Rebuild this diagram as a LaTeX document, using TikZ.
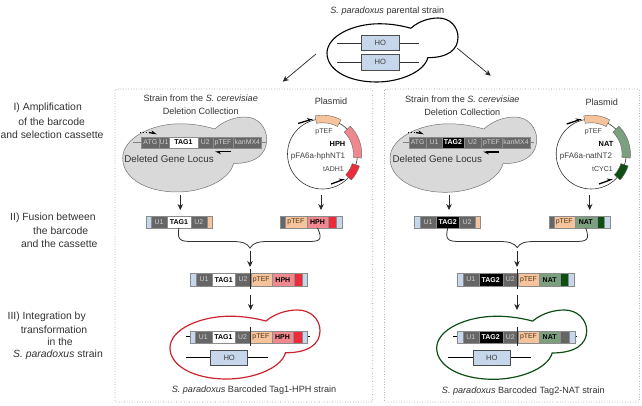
\documentclass[tikz,border=0pt]{standalone}
\usepackage{fontspec}
\setmainfont{Liberation Sans}
\usetikzlibrary{arrows.meta}

\definecolor{segdark}{HTML}{666666}
\definecolor{seglight}{HTML}{CFCFCF}
\definecolor{peach}{HTML}{F6C49C}
\definecolor{hphpink}{HTML}{F0898F}
\definecolor{hphred}{HTML}{EE2B3A}
\definecolor{natgreen}{HTML}{7C9F80}
\definecolor{natdark}{HTML}{0E4F14}
\definecolor{markerblue}{HTML}{C6D6EB}
\definecolor{cellgray}{HTML}{D9D9D9}

\tikzset{
  steptxt/.style={inner sep=0pt,font=\fontsize{10.4}{12}\selectfont,text=black!80},
  txt/.style={inner sep=0pt,font=\fontsize{9.1}{11}\selectfont,text=black!80},
  genetxt/.style={inner sep=0pt,font=\fontsize{9.8}{11}\selectfont,text=black!80},
  small/.style={inner sep=0pt,font=\fontsize{8}{9}\selectfont,text=black!75},
  tiny/.style={inner sep=0pt,font=\fontsize{7}{9}\selectfont,text=black!75},
  smallb/.style={inner sep=0pt,font=\fontsize{7.4}{9}\selectfont\bfseries,text=black},
  seg/.style={rectangle,inner sep=0pt,draw=black!45,line width=.3pt,font=\fontsize{6.9}{9}\selectfont},
  sgray/.style={seg,fill=segdark,text=seglight},
  swhite/.style={seg,fill=white,font=\fontsize{7}{9}\selectfont\bfseries,text=black},
  sblack/.style={seg,fill=black,font=\fontsize{7}{9}\selectfont\bfseries,text=white},
  speach/.style={seg,fill=peach,text=black!60!brown},
  spink/.style={seg,fill=hphpink,font=\fontsize{7}{9}\selectfont\bfseries,text=black},
  sred/.style={seg,fill=hphred},
  sgreen/.style={seg,fill=natgreen,font=\fontsize{7}{9}\selectfont\bfseries,text=black},
  sdkgreen/.style={seg,fill=natdark},
  sblue/.style={seg,fill=markerblue},
  hobox/.style={rectangle,inner sep=0pt,draw=black!70,line width=.6pt,fill=markerblue,font=\fontsize{7.6}{9}\selectfont,text=black!75},
  arrowline/.style={draw=black!85,line width=.7pt,-{Stealth[length=6pt,width=5.5pt]}},
  primer/.style={draw=black,line width=1.3pt,-{Stealth[harpoon,length=5pt,width=5pt]}},
  wire/.style={draw=black!80,line width=.7pt},
  panel/.style={draw=black!45,dotted,line width=.6pt,rounded corners=1.5pt},
  plasmidring/.style={circle,draw=black!80,line width=.6pt,minimum size=70pt,inner sep=0pt},
}

% Budding yeast outline, fitted to the box with top-left (#1,#2), size #3 x #4
\newcommand{\yeast}[5]{%
  \begin{scope}[shift={(#1,#2)},xscale=#3,yscale=#4]
    \path[#5] (.64,.16) .. controls (.70,.05) and (.78,0) .. (.85,0)
      .. controls (.94,0) and (1,.14) .. (1,.3)
      .. controls (1,.5) and (.92,.62) .. (.77,.62)
      .. controls (.74,.85) and (.55,1) .. (.38,1)
      .. controls (.15,1) and (0,.8) .. (0,.55)
      .. controls (0,.28) and (.2,.09) .. (.4,.09)
      .. controls (.49,.09) and (.57,.12) .. (.64,.16) -- cycle;
  \end{scope}}

% Cassette segment: name, left x, right x, top y, height, style, label
\newcommand{\segm}[7]{%
  \pgfmathsetmacro{\segw}{#3-#2}\pgfmathsetmacro{\segx}{(#2+#3)/2}\pgfmathsetmacro{\segy}{#4+#5/2}%
  \node[#6,minimum width=\segw pt,minimum height=#5pt] (#1) at (\segx,\segy) {#7};}

% Annular sector of a plasmid: centre x, centre y, start angle, end angle, half width, fill
\newcommand{\ringseg}[6]{%
  \draw[draw=black!60,line width=.4pt,fill=#6]
    plot[domain=#3:#4,samples=16] ({#1+(35+#5)*cos(\x)},{#2-(35+#5)*sin(\x)}) --
    plot[domain=#4:#3,samples=16] ({#1+(35-#5)*cos(\x)},{#2-(35-#5)*sin(\x)}) -- cycle;}

\begin{document}
\begin{tikzpicture}[x=1pt,y=-1pt]
\useasboundingbox (0,0) rectangle (642,406);
\fill[white] (0,0) rectangle (642,406);

% ---- parental strain
\node[txt] (title) at (387.3,11) {\textit{S. paradoxus} parental strain};
\yeast{327}{18}{131}{64}{draw=black,line width=1.1pt,fill=white}
\coordinate (hoa1) at (337.3,43); \coordinate (hoa2) at (419,43);
\coordinate (hob1) at (337.3,62.3); \coordinate (hob2) at (419,62.3);
\draw[wire] (hoa1) -- (hoa2); \draw[wire] (hob1) -- (hob2);
\node[hobox,minimum width=37.5pt,minimum height=15.5pt] (hoa) at (380.3,43) {HO};
\node[hobox,minimum width=37.5pt,minimum height=15.5pt] (hob) at (380.3,62.3) {HO};
\coordinate (spL1) at (316,54); \coordinate (spL2) at (282.7,81.7);
\coordinate (spR1) at (457.3,48.3); \coordinate (spR2) at (490.7,75.7);
\draw[arrowline] (spL1) -- (spL2);
\draw[arrowline] (spR1) -- (spR2);

% ---- step labels
\node[steptxt] (l1a) at (47.7,108) {I) Amplification};
\node[steptxt] (l1b) at (51.7,121.7) {of the barcode};
\node[steptxt] (l1c) at (52,135) {and selection cassette};
\node[steptxt] (l2a) at (53,218) {II) Fusion between};
\node[steptxt] (l2b) at (60.7,230.7) {the barcode};
\node[steptxt] (l2c) at (59.3,244) {and the cassette};
\node[steptxt] (l3a) at (46.7,316.7) {III) Integration by};
\node[steptxt] (l3b) at (54,329.3) {transformation};
\node[steptxt] (l3c) at (60,342) {in the};
\node[steptxt] (l3d) at (58,355) {\textit{S. paradoxus} strain};

% ---- panels
\draw[panel] (115,89) rectangle (372.7,402);
\draw[panel] (384.5,89) rectangle (639.5,402);

% ======== left panel
\node[txt] (lst1) at (200.7,98.7) {Strain from the \textit{S. cerevisiae}};
\node[txt] (lst2) at (200.7,111.7) {Deletion Collection};
\node[txt] (lpl) at (331,101.7) {Plasmid};
\yeast{122.7}{117}{144}{75}{draw=black!55,line width=.5pt,fill=cellgray}
\coordinate (lg1) at (133,142.5); \coordinate (lg2) at (266,142.5);
\draw[draw=black!50,line width=.5pt] (lg1) -- (lg2);
\segm{lgA}{141.3}{159.3}{136.7}{11.6}{sgray}{ATG}
\segm{lgB}{159.3}{169}{136.7}{11.6}{sgray}{U1}
\segm{lgC}{169}{197.7}{136.7}{11.6}{swhite}{TAG1}
\segm{lgD}{197.7}{212.7}{136.7}{11.6}{sgray}{U2}
\segm{lgE}{212.7}{233.3}{136.7}{11.6}{sgray}{pTEF}
\segm{lgF}{233.3}{261.3}{136.7}{11.6}{sgray}{kanMX4}
\coordinate (lp1) at (140,132.5); \coordinate (lp2) at (149,132.5); \coordinate (lp3) at (157,134);
\draw[black,line width=.9pt,dotted] (lp1) -- (lp2);
\draw[primer] (lp2) -- (lp3);
\coordinate (lp4) at (231,151.7); \coordinate (lp5) at (215,151.7);
\draw[primer] (lp4) -- (lp5);
\node[genetxt] (ldg) at (169,159) {Deleted Gene Locus};

\node[plasmidring] (lring) at (322.5,154) {};
\ringseg{322.5}{154}{101}{61.5}{3.8}{peach}
\ringseg{322.5}{154}{45}{-6}{4.2}{hphpink}
\ringseg{322.5}{154}{-18}{-42}{3.8}{hphred}
\coordinate (lq1) at (298,123.5); \coordinate (lq2) at (313,119);
\coordinate (lq3) at (331,184); \coordinate (lq4) at (345,179);
\draw[primer] (lq1) -- (lq2);
\draw[primer] (lq3) -- (lq4);
\node[tiny] (lpa) at (324,131.5) {pTEF};
\node[smallb] (lpb) at (337.5,143.7) {HPH};
\node[small] (lpc) at (318,156.3) {pFA6a-hphNT1};
\node[tiny] (lpd) at (333.5,169) {tADH1};

\coordinate (la1) at (180.3,195); \coordinate (la2) at (180.3,210);
\coordinate (la3) at (321,195); \coordinate (la4) at (321,210);
\draw[arrowline] (la1) -- (la2);
\draw[arrowline] (la3) -- (la4);

\segm{lbA}{145.7}{151}{215.7}{12}{sblue}{}
\segm{lbB}{151}{167}{215.7}{12}{sgray}{U1}
\segm{lbC}{167}{190.7}{215.7}{12}{swhite}{TAG1}
\segm{lbD}{190.7}{206.7}{215.7}{12}{sgray}{U2}
\segm{lbE}{206.7}{211.7}{215.7}{12}{speach}{}
\segm{lcA}{280}{285}{215.7}{12}{sgray}{}
\segm{lcB}{285}{306.7}{215.7}{12}{speach}{pTEF}
\segm{lcC}{306.7}{328.3}{215.7}{12}{spink}{HPH}
\segm{lcD}{328.3}{336}{215.7}{12}{sred}{}
\segm{lcE}{336}{341.7}{215.7}{12}{sblue}{}

\coordinate (lbr) at (250,248);
\draw[draw=black!80,line width=.8pt]
  (lbC.south) .. controls (177,240) and (180,241.5) .. (192,241.5)
  -- (232,241.5) .. controls (242,241.5) and (247,243) .. (lbr)
  .. controls (253,243) and (258,241.5) .. (268,241.5)
  -- (308,241.5) .. controls (320,241.5) and (323,240) .. (lcC.south);
\coordinate (la5) at (250,251); \coordinate (la6) at (250,267);
\draw[arrowline] (la5) -- (la6);

\segm{ldA}{190.3}{196}{273.5}{12.2}{sblue}{}
\segm{ldB}{196}{212}{273.5}{12.2}{sgray}{U1}
\segm{ldC}{212}{235.3}{273.5}{12.2}{swhite}{TAG1}
\segm{ldD}{235.3}{250.7}{273.5}{12.2}{sgray}{U2}
\segm{ldE}{250.7}{271.7}{273.5}{12.2}{speach}{pTEF}
\segm{ldF}{271.7}{294}{273.5}{12.2}{spink}{HPH}
\segm{ldG}{294}{301.7}{273.5}{12.2}{sred}{}
\segm{ldH}{301.7}{307.3}{273.5}{12.2}{sblue}{}
\coordinate (lj1) at (250.7,269); \coordinate (lj2) at (250.7,289);
\draw[draw=black!85,line width=.6pt] (lj1) -- (lj2);
\coordinate (la7) at (250.7,295); \coordinate (la8) at (250.7,310);
\draw[arrowline] (la7) -- (la8);

\yeast{170}{310}{150}{69}{draw=hphred!85!black,line width=1.2pt,fill=white}
\coordinate (lt1) at (186,336.7); \coordinate (lt2) at (310,336.7);
\draw[draw=black,line width=.8pt] (lt1) -- (lt2);
\segm{leA}{190}{195}{330.7}{12}{sblue}{}
\segm{leB}{195}{211.7}{330.7}{12}{sgray}{U1}
\segm{leC}{211.7}{235}{330.7}{12}{swhite}{TAG1}
\segm{leD}{235}{250}{330.7}{12}{sgray}{U2}
\segm{leE}{250}{271.7}{330.7}{12}{speach}{pTEF}
\segm{leF}{271.7}{293.3}{330.7}{12}{spink}{HPH}
\segm{leG}{293.3}{301.7}{330.7}{12}{sred}{}
\segm{leH}{301.7}{306.7}{330.7}{12}{sblue}{}
\coordinate (lj3) at (250,326.7); \coordinate (lj4) at (250,346);
\draw[draw=black!85,line width=.6pt] (lj3) -- (lj4);
\coordinate (lh1) at (186,357.7); \coordinate (lh2) at (268.3,357.7);
\draw[draw=black,line width=.8pt] (lh1) -- (lh2);
\node[hobox,minimum width=37pt,minimum height=15.3pt] (lho) at (229.2,357.7) {HO};
\node[txt] (lcap) at (254,390) {\textit{S. paradoxus} Barcoded Tag1-HPH strain};

% ======== right panel
\node[txt] (rst1) at (462.3,99) {Strain from the \textit{S. cerevisiae}};
\node[txt] (rst2) at (462.3,112) {Deletion Collection};
\node[txt] (rpl) at (601.7,102.3) {Plasmid};
\yeast{390}{117}{146.7}{75.3}{draw=black!55,line width=.5pt,fill=cellgray}
\coordinate (rg1) at (403,142.5); \coordinate (rg2) at (534,142.5);
\draw[draw=black!50,line width=.5pt] (rg1) -- (rg2);
\segm{rgA}{409.3}{426}{136.7}{11.6}{sgray}{ATG}
\segm{rgB}{426}{442}{136.7}{11.6}{sgray}{U1}
\segm{rgC}{442}{464}{136.7}{11.6}{sblack}{TAG2}
\segm{rgD}{464}{481}{136.7}{11.6}{sgray}{U2}
\segm{rgE}{481}{502}{136.7}{11.6}{sgray}{pTEF}
\segm{rgF}{502}{530}{136.7}{11.6}{sgray}{kanMX4}
\coordinate (rp1) at (408,132.5); \coordinate (rp2) at (416,132.5); \coordinate (rp3) at (424,134);
\draw[black,line width=.9pt,dotted] (rp1) -- (rp2);
\draw[primer] (rp2) -- (rp3);
\coordinate (rp4) at (499,152); \coordinate (rp5) at (483,152);
\draw[primer] (rp4) -- (rp5);
\node[genetxt] (rdg) at (437.3,159) {Deleted Gene Locus};

\node[plasmidring] (rring) at (591.2,154) {};
\ringseg{591.2}{154}{101}{61.5}{3.8}{peach}
\ringseg{591.2}{154}{45}{-6}{4.2}{natgreen}
\ringseg{591.2}{154}{-18}{-42}{3.8}{natdark}
\coordinate (rq1) at (566.7,124); \coordinate (rq2) at (581.7,119);
\coordinate (rq3) at (599,184); \coordinate (rq4) at (613,179);
\draw[primer] (rq1) -- (rq2);
\draw[primer] (rq3) -- (rq4);
\node[tiny] (rpa) at (593.3,131.5) {pTEF};
\node[smallb] (rpb) at (606,143.7) {NAT};
\node[small] (rpc) at (586,156.3) {pFA6a-natNT2};
\node[tiny] (rpd) at (602.5,169) {tCYC1};

\coordinate (ra1) at (449,195); \coordinate (ra2) at (449,210);
\coordinate (ra3) at (589.7,195); \coordinate (ra4) at (589.7,210);
\draw[arrowline] (ra1) -- (ra2);
\draw[arrowline] (ra3) -- (ra4);

\segm{rbA}{414.3}{420}{215.7}{12}{sblue}{}
\segm{rbB}{420}{436}{215.7}{12}{sgray}{U1}
\segm{rbC}{436}{459.3}{215.7}{12}{sblack}{TAG2}
\segm{rbD}{459.3}{475}{215.7}{12}{sgray}{U2}
\segm{rbE}{475}{480}{215.7}{12}{speach}{}
\segm{rcA}{549}{553.7}{215.7}{12}{sgray}{}
\segm{rcB}{553.7}{574.7}{215.7}{12}{speach}{pTEF}
\segm{rcC}{574.7}{596.7}{215.7}{12}{sgreen}{NAT}
\segm{rcD}{596.7}{604.3}{215.7}{12}{sdkgreen}{}
\segm{rcE}{604.3}{610}{215.7}{12}{sblue}{}

\coordinate (rbr) at (517.3,247.5);
\draw[draw=black!80,line width=.8pt]
  (rbC.south) .. controls (445,240) and (448,241.5) .. (460,241.5)
  -- (499,241.5) .. controls (509,241.5) and (514,243) .. (rbr)
  .. controls (520,243) and (525,241.5) .. (535,241.5)
  -- (575,241.5) .. controls (587,241.5) and (590,240) .. (rcC.south);
\coordinate (ra5) at (517,251); \coordinate (ra6) at (517,267);
\draw[arrowline] (ra5) -- (ra6);

\segm{rdA}{457.3}{462.7}{273.5}{12.2}{sblue}{}
\segm{rdB}{462.7}{478.7}{273.5}{12.2}{sgray}{U1}
\segm{rdC}{478.7}{502.7}{273.5}{12.2}{sblack}{TAG2}
\segm{rdD}{502.7}{518}{273.5}{12.2}{sgray}{U2}
\segm{rdE}{518}{539}{273.5}{12.2}{speach}{pTEF}
\segm{rdF}{539}{560.3}{273.5}{12.2}{sgreen}{NAT}
\segm{rdG}{560.3}{568.3}{273.5}{12.2}{sdkgreen}{}
\segm{rdH}{568.3}{573.7}{273.5}{12.2}{sblue}{}
\coordinate (rj1) at (517.5,269); \coordinate (rj2) at (517.5,289);
\draw[draw=black!85,line width=.6pt] (rj1) -- (rj2);
\coordinate (ra7) at (517,295); \coordinate (ra8) at (517,310);
\draw[arrowline] (ra7) -- (ra8);

\yeast{436.7}{310}{150}{69.3}{draw=natdark,line width=1.2pt,fill=white}
\coordinate (rt1) at (453,336.7); \coordinate (rt2) at (577,336.7);
\draw[draw=black,line width=.8pt] (rt1) -- (rt2);
\segm{reA}{457.3}{462.7}{330.7}{12}{sblue}{}
\segm{reB}{462.7}{478.7}{330.7}{12}{sgray}{U1}
\segm{reC}{478.7}{502.7}{330.7}{12}{sblack}{TAG2}
\segm{reD}{502.7}{518}{330.7}{12}{sgray}{U2}
\segm{reE}{518}{539}{330.7}{12}{speach}{pTEF}
\segm{reF}{539}{560.3}{330.7}{12}{sgreen}{NAT}
\segm{reG}{560.3}{569}{330.7}{12}{sgray}{}
\segm{reH}{569}{574.7}{330.7}{12}{sblue}{}
\coordinate (rj3) at (517.5,326.7); \coordinate (rj4) at (517.5,346);
\draw[draw=black!85,line width=.6pt] (rj3) -- (rj4);
\coordinate (rh1) at (448.3,357.7); \coordinate (rh2) at (530.7,357.7);
\draw[draw=black,line width=.8pt] (rh1) -- (rh2);
\node[hobox,minimum width=37.7pt,minimum height=15.3pt] (rho) at (491.8,357.7) {HO};
\node[txt] (rcap) at (523.3,391) {\textit{S. paradoxus} Barcoded Tag2-NAT strain};
\end{tikzpicture}
\end{document}
